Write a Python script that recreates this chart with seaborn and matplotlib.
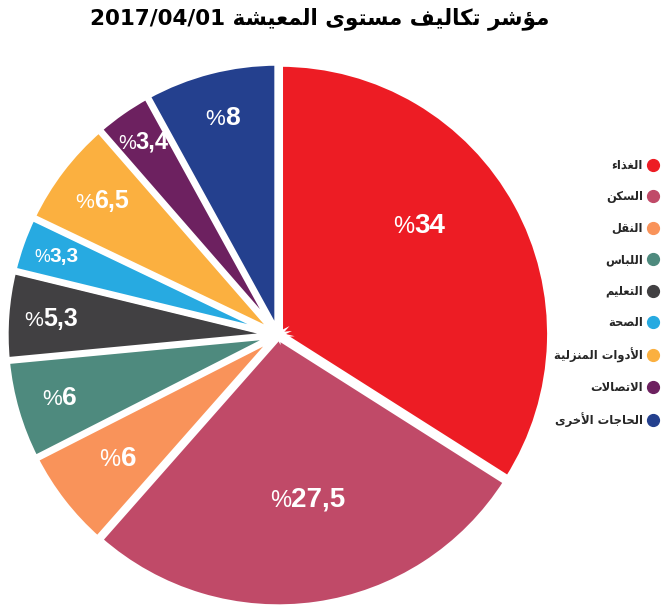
import numpy as np
import matplotlib
matplotlib.use('Agg')
import matplotlib.pyplot as plt
import seaborn as sns
from matplotlib.lines import Line2D
from matplotlib.offsetbox import TextArea, HPacker, AnnotationBbox

# Données
categories = ['الغذاء', 'السكن', 'النقل', 'اللباس', 'التعليم', 'الصحة',
              'الأدوات المنزلية', 'الاتصالات', 'الحاجات الأخرى']
values = [34, 27.5, 6, 6, 5.3, 3.3, 6.5, 3.4, 8]
value_labels = ['34', '27,5', '6', '6', '5,3', '3,3', '6,5', '3,4', '8']
colors = ['#ED1C24', '#C04A68', '#F9935A', '#4E8A7E', '#414042',
          '#27AAE1', '#FBB040', '#6D2160', '#24408E']
title_ar = 'مؤشر تكاليف مستوى المعيشة'
title_date = '2017/04/01'

# position / taille des étiquettes (rayon relatif, décalage angulaire en degrés)
label_r = [0.66, 0.62, 0.75, 0.84, 0.84, 0.87, 0.82, 0.87, 0.83]
label_shift = [9, 2, 0, 0, 0, 0, 0, 0, 0]
label_size = [20, 20, 20, 19, 18, 15, 18, 17, 19]

# mise en forme de l'arabe (formes de présentation + ordre visuel)
ISO = {'ء': 0xFE80, 'آ': 0xFE81, 'أ': 0xFE83, 'ؤ': 0xFE85, 'إ': 0xFE87, 'ئ': 0xFE89,
       'ا': 0xFE8D, 'ب': 0xFE8F, 'ة': 0xFE93, 'ت': 0xFE95, 'ث': 0xFE99, 'ج': 0xFE9D,
       'ح': 0xFEA1, 'خ': 0xFEA5, 'د': 0xFEA9, 'ذ': 0xFEAB, 'ر': 0xFEAD, 'ز': 0xFEAF,
       'س': 0xFEB1, 'ش': 0xFEB5, 'ص': 0xFEB9, 'ض': 0xFEBD, 'ط': 0xFEC1, 'ظ': 0xFEC5,
       'ع': 0xFEC9, 'غ': 0xFECD, 'ف': 0xFED1, 'ق': 0xFED5, 'ك': 0xFED9, 'ل': 0xFEDD,
       'م': 0xFEE1, 'ن': 0xFEE5, 'ه': 0xFEE9, 'و': 0xFEED, 'ى': 0xFEEF, 'ي': 0xFEF1}
DUAL = set('بتثجحخسشصضطظعغفقكلمنهيئ')
RIGHT = set('آأإاؤدذرزوةى')
LAM_ALEF = {'ا': 0xFEFB, 'أ': 0xFEF7, 'إ': 0xFEF9, 'آ': 0xFEF5}


def shape(s):
    res = []
    i = 0
    n = len(s)
    while i < n:
        c = s[i]
        prev = s[i - 1] if i > 0 else ' '
        lp = prev in DUAL and (c in DUAL or c in RIGHT)
        if c == 'ل' and i + 1 < n and s[i + 1] in LAM_ALEF:
            res.append(chr(LAM_ALEF[s[i + 1]] + int(lp)))
            i += 2
            continue
        if c not in ISO:
            res.append(c)
            i += 1
            continue
        nxt = s[i + 1] if i + 1 < n else ' '
        ln = c in DUAL and (nxt in DUAL or nxt in RIGHT)
        base = ISO[c]
        if lp and ln:
            res.append(chr(base + 3))
        elif ln:
            res.append(chr(base + 2))
        elif lp:
            res.append(chr(base + 1))
        else:
            res.append(chr(base))
        i += 1
    return ''.join(res)[::-1]


sns.set_theme(style='white')
num_font = ['Liberation Sans', 'DejaVu Sans']

fig = plt.figure(figsize=(6.67, 6.12), dpi=100)
fig.patch.set_facecolor('white')

cx, cy, rad = 278, 335, 273
ax = fig.add_axes([(cx - rad) / 667, (612 - cy - rad) / 612, 2 * rad / 667, 2 * rad / 612])

wedges, _ = ax.pie(values, colors=colors, startangle=90, counterclock=False,
                   explode=[0.008] * len(values),
                   wedgeprops=dict(edgecolor='white', linewidth=4.5))
ax.set_xlim(-1.01, 1.01)
ax.set_ylim(-1.01, 1.01)
ax.set_aspect('equal')
ax.axis('off')

for w, lab, r, sh, fs in zip(wedges, value_labels, label_r, label_shift, label_size):
    ang = np.deg2rad((w.theta1 + w.theta2) / 2 + sh)
    x, y = r * np.cos(ang), r * np.sin(ang)
    pct = TextArea('%', textprops=dict(color='white', fontsize=fs * 0.85,
                                       family=num_font))
    num = TextArea(lab, textprops=dict(color='white', fontsize=fs, fontweight='bold',
                                       family=num_font))
    box = HPacker(children=[pct, num], align='baseline', pad=0, sep=0)
    ax.add_artist(AnnotationBbox(box, (x, y), frameon=False, box_alignment=(0.5, 0.5),
                                 pad=0))

# titre
fig.text(320 / 667, 1 - 19 / 612, title_date + ' ' + shape(title_ar), ha='center', va='center',
         fontsize=15.5, fontweight='bold', color='black', family=['DejaVu Sans'])

# légende
handles = [Line2D([], [], marker='o', linestyle='', markersize=8.5,
                  markerfacecolor=c, markeredgecolor=c) for c in colors]
fig.legend(handles, [shape(c) for c in categories], loc='upper right',
           bbox_to_anchor=(665 / 667, 1 - 153 / 612), frameon=False, markerfirst=False,
           prop=dict(family='DejaVu Sans', weight='bold', size=8.3),
           labelspacing=1.6, handletextpad=0.4, borderpad=0, handlelength=1)

fig.savefig('out.png', dpi=100, facecolor='white')
